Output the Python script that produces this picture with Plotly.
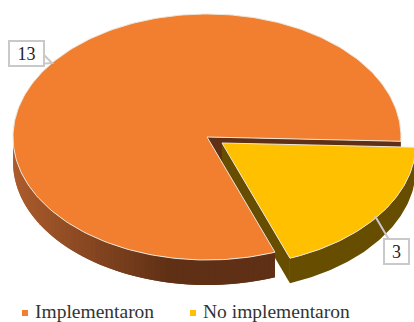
import numpy as np
import plotly.graph_objects as go

categories = ["Implementaron", "No implementaron"]
values = [13, 3]

W, H = 414, 322
CX, CY = 207, 137
RX, RY = 194, 123
DEPTH = 25
START_DEG = 2
EXPLODE = (15, 6)
ORANGE, YELLOW = "#F27F30", "#FFC000"
ORANGE_DARK, YELLOW_DARK = "#5F3015", "#664D00"
SIDE_LIGHT = (172, 92, 44)
EDGE = "#EDE6DA"
SERIF = "Liberation Serif, Times New Roman, serif"

sweep = 360 * values[1] / sum(values)
a0, a1 = np.radians(START_DEG), np.radians(START_DEG + sweep)


def rim(t, cx, cy):
    return cx + RX * np.cos(t), cy + RY * np.sin(t)


fig = go.Figure()


def poly(x, y, color, edge=None):
    fig.add_trace(go.Scatter(
        x=list(x), y=list(y), mode="lines", fill="toself", fillcolor=color,
        line=dict(color=edge or color, width=1 if edge else 0),
        showlegend=False, hoverinfo="skip"))


YX, YY = CX + EXPLODE[0], CY + EXPLODE[1]

# cut faces sit behind the top faces
rx0, ry0 = rim(a0, CX, CY)
poly([CX, rx0, rx0, CX], [CY, ry0, ry0 + DEPTH, CY + DEPTH], ORANGE_DARK)
bx, by = rim(a1, YX, YY)
poly([YX, bx, bx, YX], [YY, by, by + DEPTH, YY + DEPTH], YELLOW_DARK)

# orange outer wall with a shaded gradient; each piece overlaps the next
edges = np.linspace(np.pi + 0.04, a1, 70)
step = edges[0] - edges[1]
for t0, t1 in zip(edges[:-1], edges[1:]):
    tt = np.linspace(t0, max(t1 - step, a1), 6)
    x, y = rim(tt, CX, CY)
    mid = rim((t0 + t1) / 2, CX, CY)[0]
    f = np.clip((170 - mid) / 157, 0, 1)
    rgb = [int(round(d + (l - d) * f)) for d, l in zip((95, 48, 21), SIDE_LIGHT)]
    poly(np.r_[x, x[::-1]], np.r_[y, y[::-1] + DEPTH], f"rgb({rgb[0]},{rgb[1]},{rgb[2]})")

# orange top face
tt = np.linspace(a1, a0 + 2 * np.pi, 240)
x, y = rim(tt, CX, CY)
poly(np.r_[CX, x, CX], np.r_[CY, y, CY], ORANGE, EDGE)

# exploded yellow slice: outer wall, top face
tt = np.linspace(a0, a1, 80)
x, y = rim(tt, YX, YY)
poly(np.r_[x, x[::-1]], np.r_[y, y[::-1] + DEPTH], YELLOW_DARK)
poly(np.r_[YX, x, YX], np.r_[YY, y, YY], YELLOW, EDGE)

# legend row, placed to sit as tight as the original
LEGEND_X = (25, 193)
LEGEND_Y = 311
for name, color, lx in zip(categories, (ORANGE, YELLOW), LEGEND_X):
    fig.add_trace(go.Scatter(x=[lx], y=[LEGEND_Y + 2], mode="markers", showlegend=False,
                             hoverinfo="skip",
                             marker=dict(symbol="square", size=6, color=color)))
    fig.add_annotation(x=lx + 9, y=LEGEND_Y, text=name, showarrow=False, xanchor="left",
                       yanchor="middle", borderpad=0,
                       font=dict(family=SERIF, size=19.5, color="#333333"))

GREY = "#C9C9C9"
# callout tail for the large slice
fig.add_shape(type="path", path="M 43 54 L 52 63 L 40 64 Z", xref="x", yref="y",
              fillcolor="white", line=dict(color=GREY, width=2), layer="above")
fig.add_annotation(x=26.5, y=53, text=str(values[0]), showarrow=False,
                   font=dict(family=SERIF, size=18, color="#222222"),
                   bgcolor="white", bordercolor=GREY, borderwidth=2,
                   width=31, height=21)
fig.add_annotation(x=375, y=216, text=str(values[1]), showarrow=True, arrowhead=0,
                   arrowwidth=2, arrowcolor=GREY, ax=396, ay=251.5, axref="x", ayref="y",
                   font=dict(family=SERIF, size=18, color="#222222"),
                   bgcolor="white", bordercolor=GREY, borderwidth=2,
                   width=21, height=21)

fig.update_layout(
    width=W, height=H, margin=dict(l=0, r=0, t=0, b=0), showlegend=False,
    paper_bgcolor="white", plot_bgcolor="white",
    xaxis=dict(range=[0, W], visible=False, fixedrange=True),
    yaxis=dict(range=[H, 0], visible=False, fixedrange=True),
    font=dict(family=SERIF, color="#333333"),
)
fig.write_html("out.html", config=dict(displayModeBar=False),
               post_script="document.body.style.margin='0';document.body.style.overflow='hidden';")
